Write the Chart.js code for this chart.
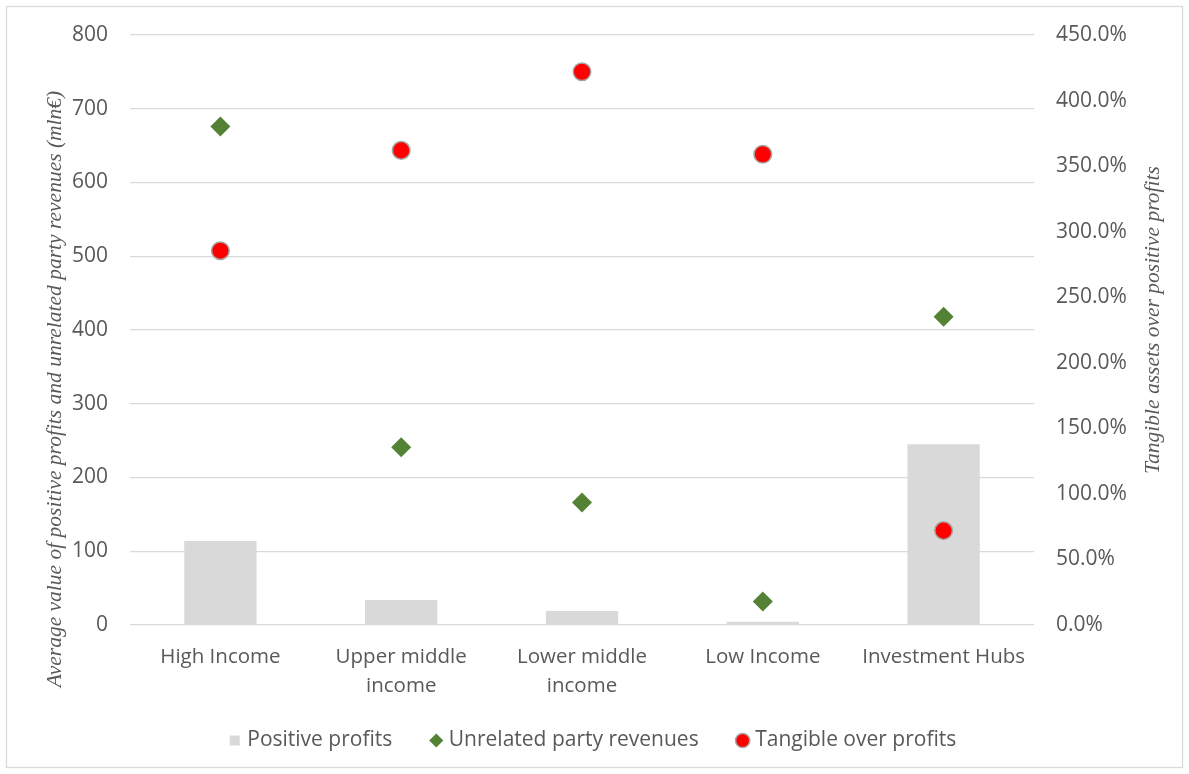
<!DOCTYPE html>
<html>
<head>
<meta charset="utf-8">
<title>Profits, revenues and tangible assets by income group</title>
<script src="https://cdn.jsdelivr.net/npm/chart.js@4/dist/chart.umd.min.js"></script>
<style>
  html, body { margin: 0; padding: 0; background: #ffffff; }
  #wrap { position: relative; width: 1189px; height: 774px; }
  canvas { display: block; }
</style>
</head>
<body>
<div id="wrap"><canvas id="chart" width="1189" height="774"></canvas></div>
<script>
// Country groups on the category axis
const categories = [
  'High Income',
  ['Upper middle', 'income'],
  ['Lower middle', 'income'],
  'Low Income',
  'Investment Hubs'
];

// Average positive profits (mln€)
const positiveProfits = [114, 34, 19, 4.5, 245];

// Average unrelated party revenues (mln€)
const unrelatedRevenues = [676, 241, 166, 32, 418];

// Tangible assets over positive profits (%)
const tangibleOverProfits = [285.5, 362, 422, 359, 72];

// Axis ranges
const leftMax = 800, leftStep = 100;
const rightMax = 450, rightStep = 50;

const textColor = '#595959';
const gridColor = '#D9D9D9';
const sansFamily = '"Open Sans", "Noto Sans", sans-serif';
const tickFont = { family: sansFamily, size: 21 };

const leftTitle = 'Average value of positive profits and unrelated party revenues (mln€)';
const rightTitle = 'Tangible assets over positive profits';

// White page with a thin frame
const framePlugin = {
  id: 'frame',
  beforeDraw(chart) {
    const ctx = chart.ctx;
    ctx.save();
    ctx.fillStyle = '#ffffff';
    ctx.fillRect(0, 0, chart.width, chart.height);
    ctx.strokeStyle = gridColor;
    ctx.lineWidth = 1.3;
    ctx.strokeRect(6.5, 6.5, chart.width - 13, chart.height - 13);
    ctx.restore();
  }
};

// Let the two-line category labels run below the axis box without being clipped
const labelRoomPlugin = {
  id: 'labelRoom',
  afterLayout(chart) {
    const x = chart.scales.x;
    x.bottom = x.top + 95;
  }
};

// Rotated italic axis titles on both sides
const axisTitlePlugin = {
  id: 'axisTitles',
  afterDraw(chart) {
    const { ctx, chartArea } = chart;
    const mid = (chartArea.top + chartArea.bottom) / 2;
    ctx.save();
    ctx.fillStyle = textColor;
    ctx.font = 'italic 21.5px "Liberation Serif", "DejaVu Serif", serif';
    ctx.textAlign = 'center';
    ctx.textBaseline = 'middle';

    ctx.save();
    ctx.translate(chartArea.left - 75, mid + 59);
    ctx.rotate(-Math.PI / 2);
    ctx.fillText(leftTitle, 0, 0);
    ctx.restore();

    ctx.save();
    ctx.translate(chartArea.right + 119, mid - 10);
    ctx.rotate(-Math.PI / 2);
    ctx.fillText(rightTitle, 0, 0);
    ctx.restore();

    ctx.restore();
  }
};

new Chart(document.getElementById('chart'), {
  data: {
    labels: categories,
    datasets: [
      {
        type: 'bar',
        label: 'Positive profits',
        data: positiveProfits,
        yAxisID: 'y',
        backgroundColor: '#D9D9D9',
        borderWidth: 0,
        categoryPercentage: 1,
        barPercentage: 0.4,
        pointStyle: 'rect',
        order: 3
      },
      {
        type: 'line',
        label: 'Unrelated party revenues',
        data: unrelatedRevenues,
        yAxisID: 'y',
        showLine: false,
        pointStyle: 'rectRot',
        pointRadius: 10,
        pointHoverRadius: 10,
        backgroundColor: '#548235',
        borderColor: '#548235',
        pointBorderWidth: 0,
        borderWidth: 0,
        order: 2
      },
      {
        type: 'line',
        label: 'Tangible over profits',
        data: tangibleOverProfits,
        yAxisID: 'y1',
        showLine: false,
        pointStyle: 'circle',
        pointRadius: 8.8,
        pointHoverRadius: 8.8,
        backgroundColor: '#FF0000',
        borderColor: '#A5A5A5',
        pointBorderWidth: 1.5,
        borderWidth: 1.5,
        order: 1
      }
    ]
  },
  options: {
    responsive: false,
    animation: false,
    devicePixelRatio: 1,
    layout: { padding: { top: 35, left: 0, right: 0, bottom: 13 } },
    plugins: {
      tooltip: { enabled: false },
      title: { display: false },
      legend: {
        position: 'bottom',
        labels: {
          usePointStyle: true,
          boxWidth: 4,
          boxHeight: 10,
          padding: 42,
          color: textColor,
          font: { family: sansFamily, size: 21 },
          sort: (a, b) => a.datasetIndex - b.datasetIndex
        }
      }
    },
    scales: {
      x: {
        type: 'category',
        grid: { display: false, drawTicks: false },
        border: { display: false },
        ticks: {
          color: textColor,
          font: { family: sansFamily, size: 20.5, lineHeight: 1.42 },
          padding: 17.5,
          maxRotation: 0,
          autoSkip: false
        },
        afterFit(scale) { scale.height = 63; }
      },
      y: {
        position: 'left',
        min: 0,
        max: leftMax,
        grid: { color: gridColor, lineWidth: 1.3, drawTicks: false },
        border: { display: false },
        ticks: {
          stepSize: leftStep,
          color: textColor,
          font: tickFont,
          padding: 22
        },
        afterFit(scale) { scale.width = 130; }
      },
      y1: {
        position: 'right',
        min: 0,
        max: rightMax,
        grid: { display: false, drawTicks: false },
        border: { display: false },
        ticks: {
          stepSize: rightStep,
          color: textColor,
          font: tickFont,
          padding: 22,
          callback: (v) => v.toFixed(1) + '%'
        },
        afterFit(scale) { scale.width = 155; }
      }
    }
  },
  plugins: [framePlugin, labelRoomPlugin, axisTitlePlugin]
});
</script>
</body>
</html>
